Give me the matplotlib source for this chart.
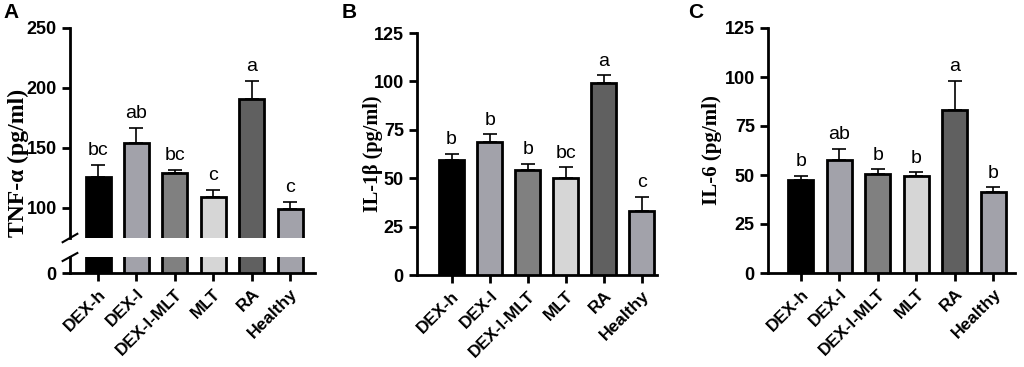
import numpy as np
import matplotlib.pyplot as plt

# Data
groups = ['DEX-h', 'DEX-l', 'DEX-l-MLT', 'MLT', 'RA', 'Healthy']
colors = ['#000000', '#a2a2aa', '#808080', '#d6d6d6', '#606060', '#a2a2aa']

tnf_mean = [126, 154, 129, 109, 191, 99]
tnf_sem = [10, 13, 3, 6, 15, 6]
tnf_letters = ['bc', 'ab', 'bc', 'c', 'a', 'c']

il1b_mean = [59.5, 68.8, 54.2, 50.2, 99.2, 33.3]
il1b_sem = [3.2, 3.8, 3.3, 5.5, 4.0, 7.2]
il1b_letters = ['b', 'b', 'b', 'bc', 'a', 'c']

il6_mean = [47.6, 57.8, 50.5, 49.3, 83.3, 41.3]
il6_sem = [2.0, 5.6, 2.5, 2.0, 14.7, 2.5]
il6_letters = ['b', 'ab', 'b', 'b', 'a', 'b']

W, H = 1024, 367
fig = plt.figure(figsize=(W / 100, H / 100), dpi=100)

sans = 'Liberation Sans'
serif = 'Liberation Serif'
x = np.arange(len(groups))


def px_axes(left, top, right, bottom):
    return fig.add_axes([left / W, 1 - bottom / H, (right - left) / W, (bottom - top) / H])


def style(ax):
    for s in ['top', 'right']:
        ax.spines[s].set_visible(False)
    for s in ['left', 'bottom']:
        ax.spines[s].set_linewidth(2)
    ax.tick_params(width=2, length=6, labelsize=13)
    for t in ax.get_yticklabels():
        t.set_fontfamily(sans)
        t.set_fontweight('bold')


def draw_bars(ax, mean, sem):
    ax.bar(x, mean, width=0.65, color=colors, edgecolor='black', linewidth=2, zorder=3)
    ax.errorbar(x, mean, yerr=[np.zeros(len(mean)), sem], fmt='none',
                ecolor='black', elinewidth=1.2, capsize=5, capthick=1.2, zorder=2)


def draw_letters(ax, mean, sem, letters):
    for xi, m, s, l in zip(x, mean, sem, letters):
        ax.annotate(l, (xi, m + s), xytext=(0, 4), textcoords='offset points',
                    ha='center', va='bottom', fontsize=14, fontfamily=sans)


def xlabels(ax):
    ax.set_xticks(x)
    ax.set_xticklabels(groups, rotation=45, ha='right', rotation_mode='anchor',
                       fontfamily=sans, fontweight='bold', fontsize=12.5)


def ylabel(ax, text, size, xc, yc):
    fig.text(xc / W, 1 - yc / H, text, rotation=90, ha='center', va='center',
             fontfamily=serif, fontweight='bold', fontsize=size)


# Panel A (broken axis)
axA = px_axes(70, 28, 315, 238)
axA0 = px_axes(70, 257, 315, 273)
for ax in (axA, axA0):
    draw_bars(ax, tnf_mean, tnf_sem)
    ax.set_xlim(-0.73, 5.65)
axA.set_ylim(75, 250)
axA.set_yticks([100, 150, 200, 250])
axA0.set_ylim(0, 13.3)
axA0.set_yticks([0])
axA.spines['bottom'].set_visible(False)
axA.tick_params(axis='x', bottom=False, labelbottom=False)
style(axA)
style(axA0)
xlabels(axA0)
draw_letters(axA, tnf_mean, tnf_sem, tnf_letters)
# break marks on the y axis
axA.plot([-0.03, 0.03], [-0.02, 0.02], transform=axA.transAxes,
         color='black', lw=1.5, clip_on=False)
axA0.plot([-0.03, 0.03], [0.75, 1.25], transform=axA0.transAxes,
          color='black', lw=1.5, clip_on=False)
ylabel(axA, 'TNF-α (pg/ml)', 17, 18, 163)

# Panel B
axB = px_axes(417, 33, 657, 275)
draw_bars(axB, il1b_mean, il1b_sem)
axB.set_xlim(-0.91, 5.4)
axB.set_ylim(0, 125)
axB.set_yticks([0, 25, 50, 75, 100, 125])
style(axB)
xlabels(axB)
draw_letters(axB, il1b_mean, il1b_sem, il1b_letters)
ylabel(axB, 'IL-1β (pg/ml)', 14.5, 373, 154)

# Panel C
axC = px_axes(768, 28, 1015, 273)
draw_bars(axC, il6_mean, il6_sem)
axC.set_xlim(-0.85, 5.56)
axC.set_ylim(0, 125)
axC.set_yticks([0, 25, 50, 75, 100, 125])
style(axC)
xlabels(axC)
draw_letters(axC, il6_mean, il6_sem, il6_letters)
ylabel(axC, 'IL-6 (pg/ml)', 15, 712, 150)

# Panel letters
for lbl, px in (('A', 3), ('B', 342), ('C', 688)):
    fig.text(px / W, 1 - 3 / H, lbl, fontfamily=sans, fontweight='bold',
             fontsize=15, ha='left', va='top')

fig.savefig('out.png', dpi=100)
